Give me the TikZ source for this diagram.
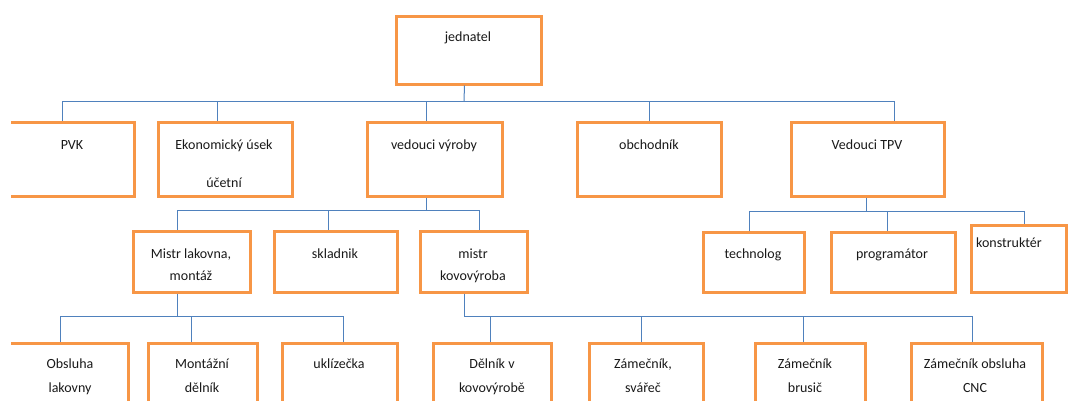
\documentclass[tikz,border=0pt]{standalone}
\usepackage{fontspec}
\setmainfont{Carlito}
\tikzset{
  orgbox/.style={draw=boxorange, line width=3pt, rectangle, inner sep=0pt},
  link/.style={draw=linkblue, line width=1pt},
  lbl/.style={font=\fontsize{14}{16}\selectfont, text=black!90, inner sep=0pt, anchor=base},
}
\definecolor{boxorange}{HTML}{F79646}
\definecolor{linkblue}{HTML}{4F81BD}
% \bx{name}{x1}{y1}{x2}{y2}: box given by its corners (y grows downwards)
\newcommand\bx[5]{\node[orgbox, minimum width={#4-#2}, minimum height={#5-#3}] (#1) at ({(#2+#4)/2},{(#3+#5)/2}) {};}
\begin{document}
\begin{tikzpicture}[x=1pt, y=-1pt]
\useasboundingbox (0,0) rectangle (1069,400);
\clip (11,0) rectangle (1069,400);

% level 0
\bx{jed}{396}{16}{541}{84}
% level 1
\bx{pvk}{-10}{122}{134}{196}
\bx{eko}{158}{122}{292}{196}
\bx{vyr}{367}{122}{502}{196}
\bx{obch}{577}{122}{721}{196}
\bx{tpv}{791}{122}{944}{196}
% level 2
\bx{mlak}{133}{231}{250}{292}
\bx{skl}{274}{231}{397}{292}
\bx{mkov}{420}{231}{527}{292}
\bx{tech}{703}{232}{804}{292}
\bx{prog}{831}{232}{955}{292}
\bx{kons}{971}{225}{1066}{292}
% level 3
\bx{obs}{-8}{343}{128}{420}
\bx{mont}{148}{343}{257}{420}
\bx{ukl}{282}{343}{397}{420}
\bx{del}{433}{343}{551}{420}
\bx{zsv}{589}{343}{703}{420}
\bx{zbr}{755}{343}{865}{420}
\bx{zcnc}{911}{343}{1042}{420}

% labels
\node[lbl] (t-jed) at (468,41) {jednatel};
\node[lbl] (t-pvk) at (72,149) {PVK};
\node[lbl] (t-eko1) at (224,149) {Ekonomický úsek};
\node[lbl] (t-eko2) at (224,187) {účetní};
\node[lbl] (t-vyr) at (434,149) {vedouci výroby};
\node[lbl] (t-obch) at (649,149) {obchodník};
\node[lbl] (t-tpv) at (867,149) {Vedouci TPV};
\node[lbl] (t-mlak1) at (191,258) {Mistr lakovna,};
\node[lbl] (t-mlak2) at (191,280) {montáž};
\node[lbl] (t-skl) at (335,258) {skladnik};
\node[lbl] (t-mkov1) at (473,258) {mistr};
\node[lbl] (t-mkov2) at (473,280) {kovovýroba};
\node[lbl] (t-tech) at (753,258) {technolog};
\node[lbl] (t-prog) at (892,258) {programátor};
\node[lbl, anchor=base west] (t-kons) at (976,247) {konstruktér};
\node[lbl] (t-obs1) at (70,368) {Obsluha};
\node[lbl] (t-obs2) at (70,392) {lakovny};
\node[lbl] (t-mont1) at (202,368) {Montážní};
\node[lbl] (t-mont2) at (202,392) {dělník};
\node[lbl] (t-ukl) at (339,368) {uklízečka};
\node[lbl] (t-del1) at (492,368) {Dělník v};
\node[lbl] (t-del2) at (492,392) {kovovýrobě};
\node[lbl] (t-zsv1) at (643,368) {Zámečník,};
\node[lbl] (t-zsv2) at (643,392) {svářeč};
\node[lbl] (t-zbr1) at (805,368) {Zámečník};
\node[lbl] (t-zbr2) at (805,392) {brusič};
\node[lbl] (t-zcnc1) at (975,368) {Zámečník obsluha};
\node[lbl] (t-zcnc2) at (975,392) {CNC};

% bus junctions
\coordinate (b0) at (464,101);
\coordinate (b1) at (426,210);
\coordinate (b2) at (866,211);
\coordinate (b3) at (177,316);
\coordinate (b4) at (464,316);

% jednatel -> level 1
\draw[link] ([xshift=-4pt]jed.south) -- (b0);
\draw[link] (pvk.north) |- (b0);
\draw[link] ([xshift=-8pt]eko.north) |- (b0);
\draw[link] ([xshift=-8.5pt]vyr.north) |- (b0);
\draw[link] (obch.north) |- (b0);
\draw[link] ([xshift=26.5pt]tpv.north) |- (b0);

% vedouci vyroby -> level 2
\draw[link] ([xshift=-8.5pt]vyr.south) -- (b1);
\draw[link] ([xshift=-14.5pt]mlak.north) |- (b1);
\draw[link] ([xshift=-7.5pt]skl.north) |- (b1);
\draw[link] ([xshift=5.5pt]mkov.north) |- (b1);

% vedouci TPV -> level 2
\draw[link] ([xshift=-1.5pt]tpv.south) -- (b2);
\draw[link] ([xshift=-4.5pt]tech.north) |- (b2);
\draw[link] ([xshift=-6pt]prog.north) |- (b2);
\draw[link] ([xshift=5.5pt]kons.north) |- (b2);

% mistr lakovna -> level 3
\draw[link] ([xshift=-14.5pt]mlak.south) -- (b3);
\draw[link] (obs.north) |- (b3);
\draw[link] ([xshift=-11.5pt]mont.north) |- (b3);
\draw[link] ([xshift=3.5pt]ukl.north) |- (b3);

% mistr kovovyroba -> level 3
\draw[link] ([xshift=-9.5pt]mkov.south) -- (b4);
\draw[link] ([xshift=-2pt]del.north) |- (b4);
\draw[link] ([xshift=-5pt]zsv.north) |- (b4);
\draw[link] ([xshift=-7pt]zbr.north) |- (b4);
\draw[link] ([xshift=-4.5pt]zcnc.north) |- (b4);
\end{tikzpicture}
\end{document}
